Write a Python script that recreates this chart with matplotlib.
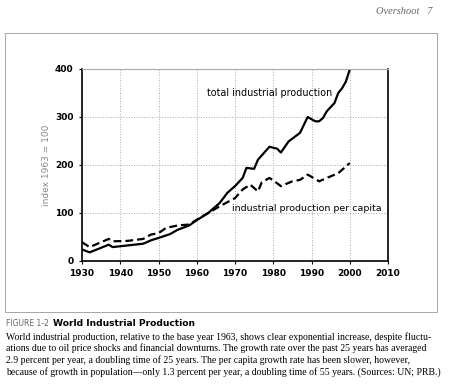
import matplotlib.pyplot as plt
from matplotlib.patches import Rectangle

# total industrial production, index 1963 = 100
years_total = [1930, 1932, 1937, 1938, 1946, 1948, 1950, 1953, 1955, 1958, 1960,
               1963, 1966, 1968, 1970, 1972, 1973, 1975, 1976, 1979, 1981, 1982,
               1984, 1987, 1989, 1991, 1992, 1993, 1994, 1996, 1997, 1998, 1999, 2000]
total = [24, 18, 34, 29, 36, 43, 48, 56, 65, 74, 85,
         100, 121, 142, 156, 173, 194, 192, 211, 238, 234, 226,
         249, 267, 300, 291, 291, 298, 312, 329, 350, 360, 374, 399]

# per capita
years_pc = [1930, 1932, 1937, 1938, 1942, 1946, 1948, 1950, 1952, 1955, 1958, 1960,
            1963, 1966, 1970, 1972, 1974, 1976, 1977, 1979, 1980, 1982, 1985, 1987,
            1989, 1992, 1994, 1997, 2000]
per_capita = [39, 29, 46, 41, 42, 46, 55, 58, 69, 74, 76, 86,
              100, 114, 131, 149, 159, 145, 164, 173, 168, 156, 166, 169,
              180, 166, 173, 183, 204]

x_ticks = [1930, 1940, 1950, 1960, 1970, 1980, 1990, 2000, 2010]
y_ticks = [0, 100, 200, 300, 400]

fig = plt.figure(figsize=(4.5, 3.85), dpi=100)
fig.patch.set_facecolor('white')

# page frame around the figure
fig.add_artist(Rectangle((5/450, 1 - 312/385), 432/450, 279/385,
                         transform=fig.transFigure, fill=False,
                         edgecolor='#999999', linewidth=0.6))

ax = fig.add_axes([82/450, 1 - 261/385, 306/450, 192/385])
ax.plot(years_total, total, color='black', linewidth=1.6)
ax.plot(years_pc, per_capita, color='black', linewidth=1.6, linestyle=(0, (3.5, 1.8)))

ax.set_xlim(1930, 2010)
ax.set_ylim(0, 400)
ax.set_xticks(x_ticks)
ax.set_yticks(y_ticks)
ax.tick_params(axis='both', length=2, labelsize=6.5, pad=4)
for lab in ax.get_xticklabels() + ax.get_yticklabels():
    lab.set_fontweight('bold')
ax.grid(True, color='#aaaaaa', linestyle=':', linewidth=0.7)
ax.spines['top'].set_color('#aaaaaa')
for s in ['left', 'bottom', 'right']:
    ax.spines[s].set_linewidth(1.2)

ax.set_ylabel('index 1963 = 100', fontsize=6.5, color='#888888', labelpad=3)

ax.text(1962.7, 350, 'total industrial production', fontsize=6.9, va='center')
ax.text(1969.2, 110, 'industrial production per capita', fontsize=6.8, va='center')

# page header
fig.text(432/450, 1 - 11/385, 'Overshoot   7', family='Liberation Serif',
         style='italic', fontsize=7.5, color='#666666', ha='right', va='center')

# caption
fig.text(6/450, 1 - 324/385, 'FIGURE 1-2', fontsize=5.5, color='#666666',
         va='center')
fig.text(53/450, 1 - 324/385, 'World Industrial Production', fontsize=6.6,
         fontweight='bold', va='center')
caption = [
    'World industrial production, relative to the base year 1963, shows clear exponential increase, despite fluctu-',
    'ations due to oil price shocks and financial downturns. The growth rate over the past 25 years has averaged',
    '2.9 percent per year, a doubling time of 25 years. The per capita growth rate has been slower, however,',
    'because of growth in population\u2014only 1.3 percent per year, a doubling time of 55 years. (Sources: UN; PRB.)',
]
for i, line in enumerate(caption):
    fig.text(6/450, 1 - (337 + i * 11.6)/385, line, family='Liberation Serif',
             fontsize=7.0, va='center')

fig.savefig('out.png', dpi=100)
